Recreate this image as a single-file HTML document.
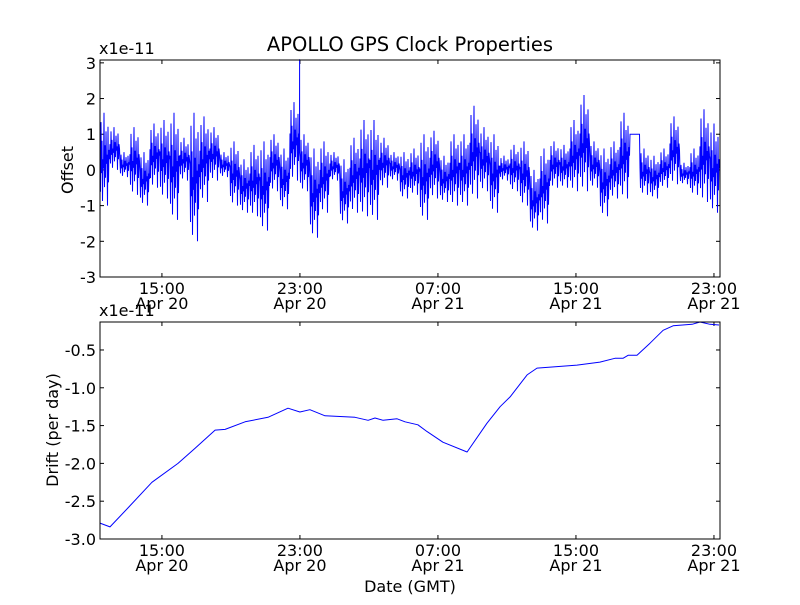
<!DOCTYPE html>
<html><head><meta charset="utf-8"><style>
html,body{margin:0;padding:0;background:#fff;}
svg text{font-family:"DejaVu Sans","Liberation Sans",sans-serif;fill:#000;}
</style></head><body>
<svg id="chart" width="800" height="600" viewBox="0 0 800 600" xmlns="http://www.w3.org/2000/svg">
<rect width="800" height="600" fill="#fff"/>
<text x="410" y="51" font-size="19.5" text-anchor="middle">APOLLO GPS Clock Properties</text>
<g id="top"></g>
<g id="bot"></g>
</svg>
<script>
// x tick positions (hours since Apr 20 00:00) and labels
const tickHours = [15, 23, 31, 39, 47];
const tickTimes = ["15:00", "23:00", "07:00", "15:00", "23:00"];
const tickDates = ["Apr 20", "Apr 20", "Apr 21", "Apr 21", "Apr 21"];
// Offset panel: envelope per bin (x1e-11)
const offsetHi = [1.6,1.2,0.5,1.2,0.5,1.3,1.4,1.6,0.9,1.6,1.5,1.2,0.5,0.8,0.3,0.7,0.8,1.0,0.6,1.9,1.0,0.6,0.8,0.5,0.3,0.9,1.4,1.4,0.9,0.5,0.5,0.6,1.0,1.1,0.4,1.0,1.0,1.8,1.2,1.0,0.4,0.7,0.8,0.0,0.6,0.8,0.7,1.4,2.1,0.8,0.6,0.8,1.6,1.0,0.6,0.4,0.6,1.5,0.2,0.6,1.7,1.3];
const offsetLo = [-1.0,0.0,-0.2,-0.7,-1.0,-0.5,-0.8,-1.4,-0.3,-2.0,-0.9,-0.3,-0.2,-1.0,-1.2,-1.3,-1.7,-0.6,-1.1,-0.3,-0.6,-1.9,-1.2,-0.3,-1.5,-1.2,-1.3,-1.4,-0.5,-0.3,-0.8,-0.7,-1.4,-0.8,-0.9,-1.0,-1.0,-0.8,-0.6,-1.2,-0.3,-0.6,-1.0,-1.7,-1.5,-0.5,-0.5,-0.6,-0.6,-0.5,-1.3,-0.8,-0.8,1.0,-0.7,-0.8,-0.5,-0.4,-0.4,-0.7,-0.9,-1.2];
const spikeHours = [22.98];
const spikeValues = [3.1];
// Drift panel
const driftHours = [11.41,11.99,13.03,14.42,15.93,16.92,18.08,18.66,19.82,21.15,22.31,23.00,23.58,24.45,26.19,26.95,27.35,27.82,28.63,29.09,29.84,30.37,31.29,32.69,33.84,34.60,35.18,36.17,36.74,39.06,40.39,41.26,41.73,42.02,42.54,43.29,44.05,44.63,45.73,46.19,46.77,47.29];
const driftValues = [-2.79,-2.84,-2.59,-2.25,-2.0,-1.80,-1.56,-1.55,-1.45,-1.39,-1.27,-1.32,-1.29,-1.37,-1.39,-1.43,-1.40,-1.43,-1.41,-1.45,-1.49,-1.58,-1.72,-1.85,-1.47,-1.25,-1.12,-0.83,-0.74,-0.70,-0.66,-0.61,-0.61,-0.57,-0.57,-0.41,-0.24,-0.18,-0.16,-0.13,-0.16,-0.17];
const topTicks = [3,2,1,0,-1,-2,-3];
const botTicks = [-0.5,-1.0,-1.5,-2.0,-2.5,-3.0];

const NS="http://www.w3.org/2000/svg";
const X0=100,X1=720,H0=11.41,H1=47.35;
const xs=h=>X0+(h-H0)/(H1-H0)*(X1-X0);
function el(p,tag,at){const e=document.createElementNS(NS,tag);for(const k in at)e.setAttribute(k,at[k]);p.appendChild(e);return e;}

function axes(g,top,bot,ymin,ymax,yticks,fmt){
  const ys=v=>bot-(v-ymin)/(ymax-ymin)*(bot-top);
  tickHours.forEach((h,i)=>{
    const x=xs(h);
    const t1=el(g,'line',{x1:x,x2:x,y1:bot,y2:bot-4,stroke:'#000'});
    
    
    el(g,'line',{x1:x,x2:x,y1:top,y2:top+4,stroke:'#000'});
    const a=el(g,'text',{x:x,y:bot+17,'font-size':16,'text-anchor':'middle'});a.textContent=tickTimes[i];
    
    
    const b=el(g,'text',{x:x,y:bot+32,'font-size':16,'text-anchor':'middle'});b.textContent=tickDates[i];
    
    
  });
  yticks.forEach(v=>{
    const y=ys(v);
    el(g,'line',{x1:X0,x2:X0+4,y1:y,y2:y,stroke:'#000'});
    el(g,'line',{x1:X1,x2:X1-4,y1:y,y2:y,stroke:'#000'});
    const t=el(g,'text',{x:X0-4,y:y+6,'font-size':16,'text-anchor':'end'});t.textContent=fmt(v);
    
    
  });
  return ys;
}

// top panel
const gt=document.getElementById('top');


const ysT=axes(gt,60,277,-3,3.08,topTicks,v=>String(v));
const fr=[0.6,0.15,0.9,0.35,0.7,0.05,0.5,0.4,1,0.2,0.65,0.3,0.8,0.45,0.55,0.0,0.85,0.25,0.6,0.5];
let d='';const binH=(H1-H0)/offsetHi.length;
offsetHi.forEach((hi,i)=>{
  const lo=offsetLo[i];
  fr.forEach((f,k)=>{
    const h=H0+i*binH+k*binH/fr.length;
    const x=xs(h),y=ysT(lo+(hi-lo)*f);
    d+=(d?'L':'M')+x.toFixed(1)+','+y.toFixed(1);
    spikeHours.forEach((sh,j)=>{if(sh>=h&&sh<h+binH/fr.length){d+='L'+xs(sh).toFixed(1)+','+ysT(spikeValues[j]).toFixed(1)+'L'+xs(sh).toFixed(1)+','+ysT(0.5).toFixed(1);}});
  });
});
const pt=el(gt,'path',{d:d,fill:'none',stroke:'#0000ff','stroke-width':1});


const fr1=el(gt,'rect',{x:X0,y:60,width:X1-X0,height:217,fill:'none',stroke:'#000'});


const l1=el(gt,'text',{x:99,y:54,'font-size':16});l1.textContent='x1e-11';


const yl1=el(gt,'text',{x:0,y:0,'font-size':16,'text-anchor':'middle',transform:'translate(73,170) rotate(-90)'});yl1.textContent='Offset';



// bottom panel
const gb=document.getElementById('bot');


const ysB=axes(gb,322,539,-3.0,-0.13,botTicks,v=>v.toFixed(1));
let d2='';
driftHours.forEach((h,i)=>{d2+=(i?'L':'M')+xs(h).toFixed(1)+','+ysB(driftValues[i]).toFixed(1);});
const pb=el(gb,'path',{d:d2,fill:'none',stroke:'#0000ff','stroke-width':1,'stroke-linejoin':'round'});


const fr2=el(gb,'rect',{x:X0,y:322,width:X1-X0,height:217,fill:'none',stroke:'#000'});


const l2=el(gb,'text',{x:99,y:316,'font-size':16});l2.textContent='x1e-11';


const yl2=el(gb,'text',{x:0,y:0,'font-size':16,'text-anchor':'middle',transform:'translate(58,430) rotate(-90)'});yl2.textContent='Drift (per day)';


const xl=el(gb,'text',{x:410,y:592,'font-size':16,'text-anchor':'middle'});xl.textContent='Date (GMT)';


</script>
</body></html>
